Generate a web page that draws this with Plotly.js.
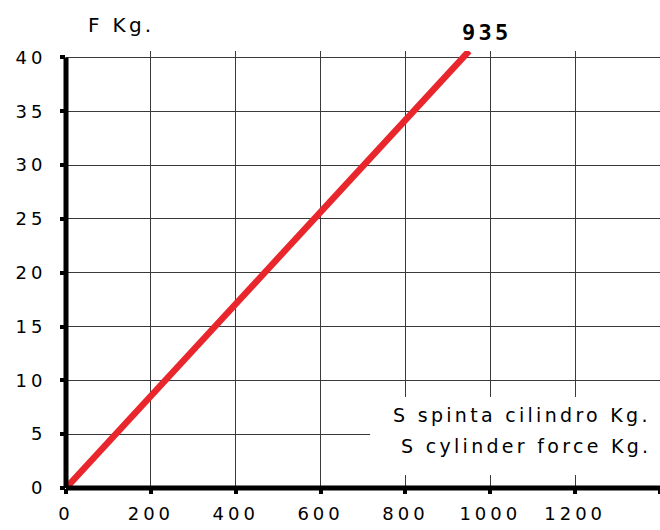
<!DOCTYPE html>
<html>
<head>
<meta charset="utf-8">
<script src="https://cdn.plot.ly/plotly-3.0.1.min.js"></script>
<style>
  html, body { margin: 0; padding: 0; background: #fff; }
  #chart { width: 660px; height: 530px; }
  .xtick text, .ytick text { letter-spacing: 4px; }
  .annotation-text { letter-spacing: 3.3px; }
</style>
</head>
<body>
<div id="chart"></div>
<script>
// Data
const cylinderForceS = [0, 950];     // S, cylinder force Kg.
const forceF = [0, 40.6];            // F Kg.
const xTickVals = [0, 200, 400, 600, 800, 1000, 1200, 1400];
const xTickText = ["0", "200", "400", "600", "800", "1000", "1200", ""];
const yTickVals = [0, 5, 10, 15, 20, 25, 30, 35, 40];
const yTickText = ["0", "5", "10", "15", "20", "25", "30", "35", "40"];
const curveLabel = "935";
const yAxisLabel = "F Kg.";
const xAxisLabelIt = "S spinta cilindro Kg.";
const xAxisLabelEn = "S cylinder force Kg.";

const font = "DejaVu Sans, Verdana, sans-serif";

const trace = {
  x: cylinderForceS,
  y: forceF,
  type: "scatter",
  mode: "lines",
  line: { color: "#e8262c", width: 6.5 },
  hoverinfo: "skip"
};

const axisCommon = {
  showgrid: true,
  gridcolor: "#3a3a3a",
  gridwidth: 1,
  zeroline: false,
  showline: false,
  ticks: "outside",
  ticklen: 5,
  tickwidth: 4,
  tickcolor: "#000",
  tickfont: { family: font, size: 18, color: "#000" },
  fixedrange: true
};

const layout = {
  width: 660,
  height: 530,
  margin: { l: 66, r: 0, t: 51, b: 42, pad: 0 },
  paper_bgcolor: "#ffffff",
  plot_bgcolor: "#ffffff",
  showlegend: false,
  font: { family: font, size: 16, color: "#000" },
  xaxis: Object.assign({}, axisCommon, {
    range: [0, 1400],
    tickmode: "array",
    tickvals: xTickVals,
    ticktext: xTickText,
    ticklabelstandoff: 4
  }),
  yaxis: Object.assign({}, axisCommon, {
    range: [0, 40.6],
    tickmode: "array",
    tickvals: yTickVals,
    ticktext: yTickText,
    ticklabelstandoff: 10
  }),
  shapes: [
    // white panel behind the axis caption
    { type: "rect", xref: "paper", yref: "paper", x0: 0.512, x1: 1, y0: 0.03, y1: 0.208,
      fillcolor: "#ffffff", line: { width: 0 }, layer: "above" },
    // thick axis lines
    { type: "line", xref: "paper", yref: "paper", x0: 0, x1: 1, y0: 0, y1: 0,
      line: { color: "#000", width: 5 }, layer: "above" },
    { type: "line", xref: "paper", yref: "paper", x0: 0, x1: 0, y0: 0, y1: 40 / 40.6,
      line: { color: "#000", width: 5 }, layer: "above" }
  ],
  annotations: [
    {
      text: yAxisLabel,
      xref: "paper", yref: "paper",
      x: 0.094, y: 1.059,
      xanchor: "center", yanchor: "middle",
      showarrow: false,
      font: { family: font, size: 20, color: "#000" }
    },
    {
      text: "<b>" + curveLabel + "</b>",
      xref: "paper", yref: "paper",
      x: 0.709, y: 1.043,
      xanchor: "center", yanchor: "middle",
      showarrow: false,
      font: { family: "DejaVu Sans Mono, monospace", size: 22, color: "#000" }
    },
    {
      text: xAxisLabelIt,
      xref: "paper", yref: "paper",
      x: 0.988, y: 0.167,
      xanchor: "right", yanchor: "middle",
      showarrow: false,
      font: { family: font, size: 19, color: "#000" }
    },
    {
      text: xAxisLabelEn,
      xref: "paper", yref: "paper",
      x: 0.988, y: 0.096,
      xanchor: "right", yanchor: "middle",
      showarrow: false,
      font: { family: font, size: 19, color: "#000" }
    }
  ]
};

Plotly.newPlot("chart", [trace], layout, { staticPlot: true, displayModeBar: false });
</script>
</body>
</html>
